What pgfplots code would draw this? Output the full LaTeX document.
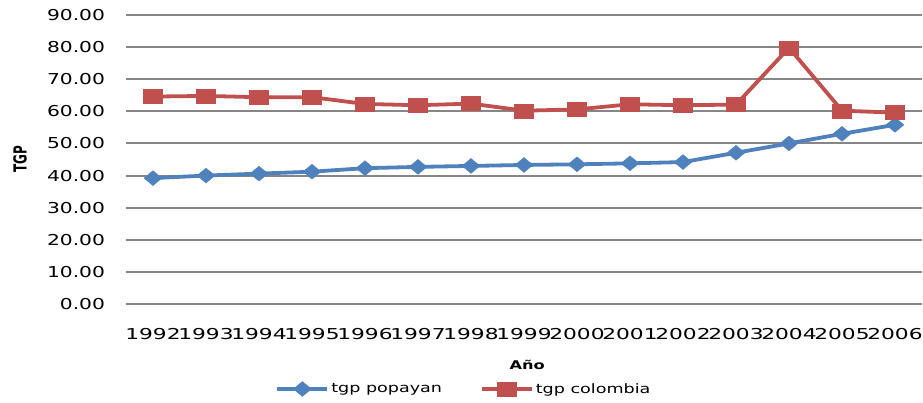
\documentclass[border=0pt]{standalone}
\usepackage{fontspec}
\setmainfont[FakeStretch=1.35]{DejaVu Sans}
\newfontfamily\plainfont{DejaVu Sans}
\newfontfamily\yearfont[FakeStretch=1.45]{DejaVu Sans}
\usepackage{pgfplots}
\pgfplotsset{compat=1.18}
\definecolor{cblue}{RGB}{79,129,189}
\definecolor{cred}{RGB}{192,80,77}
\definecolor{cgrid}{RGB}{134,134,134}
\begin{document}
\begin{tikzpicture}
\path[use as bounding box] (-126.5bp,-99bp) rectangle (796.5bp,304bp);
\begin{axis}[
  at={(0,0)}, anchor=south west,
  scale only axis, width=795bp, height=289bp,
  xmin=-0.5, xmax=14.5, ymin=0, ymax=90,
  axis line style={draw=none},
  xtick=data,
  xticklabels={1992,1993,1994,1995,1996,1997,1998,1999,2000,2001,2002,2003,2004,2005,2006},
  ytick={0,10,...,90},
  tick style={draw=none},
  ymajorgrids,
  grid style={cgrid, line width=2bp},
  /pgf/number format/assume math mode=true,
  yticklabel={\pgfmathprintnumber[fixed,zerofill,precision=2]{\tick}},
  yticklabel style={font=\fontsize{15bp}{18bp}\selectfont},
  xticklabel style={font=\yearfont\fontsize{15bp}{18bp}\selectfont},
  yticklabel shift=18bp,
  xticklabel shift=21bp,
  xlabel={Año}, ylabel={TGP},
  xlabel style={font=\fontsize{12bp}{14bp}\selectfont\bfseries, at={(axis description cs:0.504,-0.211)}, anchor=center},
  ylabel style={font=\plainfont\fontsize{12bp}{14bp}\selectfont\bfseries, at={(axis description cs:-0.134,0.5)}, anchor=center, yscale=1.5},
  legend columns=2,
  legend style={draw=none, at={(axis description cs:0.4245,-0.294)}, anchor=center,
    font=\fontsize{13bp}{16bp}\selectfont,
    /tikz/every even column/.append style={column sep=36bp}},
  legend image code/.code={\draw[#1, mark repeat=2, mark phase=2] plot coordinates {(0bp,0bp) (25bp,0bp) (50bp,0bp)};},
]
\addplot[cblue, line width=3.8bp, mark=diamond*, mark size=7.5bp, mark options={xscale=1.6, fill=cblue, draw=cblue, line width=0.3bp}]
coordinates {(0,39.2)(1,40.0)(2,40.6)(3,41.2)(4,42.3)(5,42.7)(6,43.0)(7,43.3)(8,43.5)(9,43.8)(10,44.2)(11,47.1)(12,50.0)(13,53.0)(14,55.8)};
\addlegendentry{tgp popayan}
\addplot[cred, line width=3.8bp, mark=square*, mark size=7bp, mark options={xscale=1.35, fill=cred, draw=cred, line width=0.3bp}]
coordinates {(0,64.6)(1,64.8)(2,64.4)(3,64.4)(4,62.3)(5,61.9)(6,62.4)(7,60.2)(8,60.6)(9,62.2)(10,61.9)(11,62.1)(12,79.8)(13,60.2)(14,59.6)};
\addlegendentry{tgp colombia}
\end{axis}
\end{tikzpicture}
\end{document}
